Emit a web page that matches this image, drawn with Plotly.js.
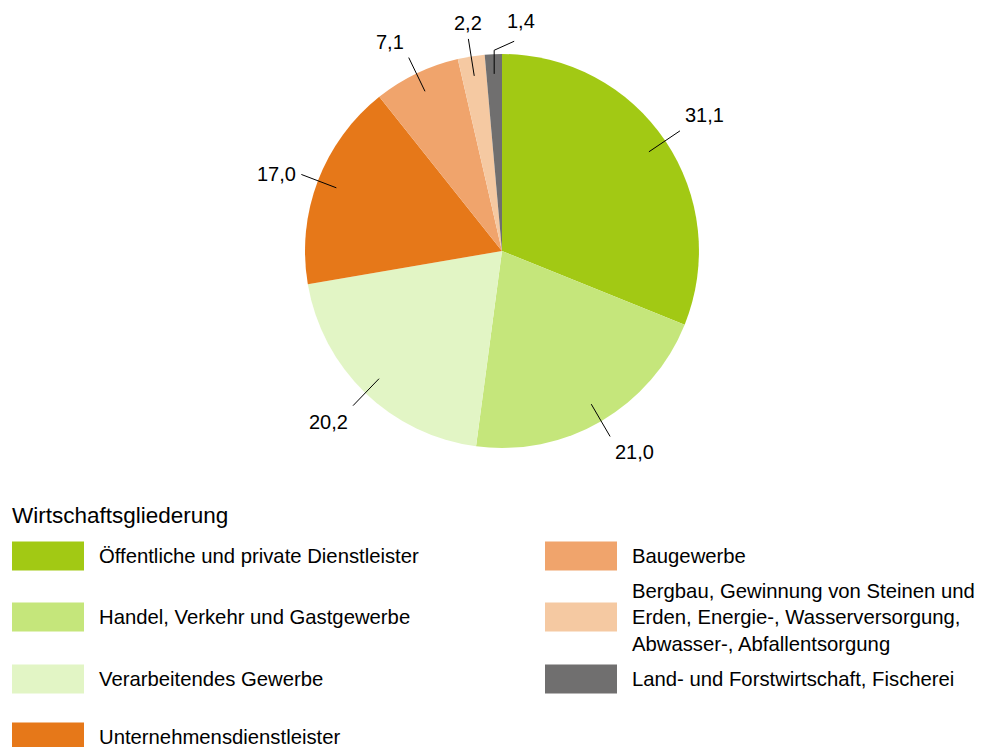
<!DOCTYPE html>
<html><head><meta charset="utf-8">
<script src="https://cdn.plot.ly/plotly-3.0.1.min.js"></script>
<style>html,body{margin:0;padding:0;background:#fff}</style>
</head><body><div id="chart" style="width:981px;height:747px"></div>
<script>
const categories = [
  "Öffentliche und private Dienstleister",
  "Handel, Verkehr und Gastgewerbe",
  "Verarbeitendes Gewerbe",
  "Unternehmensdienstleister",
  "Baugewerbe",
  "Bergbau, Gewinnung von Steinen und<br>Erden, Energie-, Wasserversorgung,<br>Abwasser-, Abfallentsorgung",
  "Land- und Forstwirtschaft, Fischerei"
];
const values = [31.1, 21.0, 20.2, 17.0, 7.1, 2.2, 1.4];
const valueLabels = ["31,1", "21,0", "20,2", "17,0", "7,1", "2,2", "1,4"];
const colors = ["#a2c914", "#c5e67b", "#e2f5c5", "#e67819", "#f0a46c", "#f5c9a2", "#706f6f"];
const legendTitle = "Wirtschaftsgliederung";

const W = 981, H = 747;
const FONT = "Liberation Sans, Arial, sans-serif";
const dom = {x: [0.3109, 0.7125], y: [0.4003, 0.9277]};
const cx = W * (dom.x[0] + dom.x[1]) / 2;
const cy = H * (1 - (dom.y[0] + dom.y[1]) / 2);
const R = W * (dom.x[1] - dom.x[0]) / 2;
const px = x => x / W, py = y => 1 - y / H;

const total = values.reduce((a, b) => a + b, 0);
const shapes = [], annotations = [];
let cum = 0, prevX = null;
values.forEach((v, i) => {
  const mid = (cum + v / 2) / total * 2 * Math.PI;
  cum += v;
  const s = Math.sin(mid), c = Math.cos(mid);
  const pt = r => [cx + r * R * s, cy - r * R * c];
  const p0 = pt(0.9);
  let p1 = pt(1.09);
  let tx = p1[0], ty = p1[1], xa, ya;
  if (Math.abs(s) < 0.3 && prevX !== null && Math.abs(p1[0] - prevX) < 40) {
    const e = pt(1.02);
    shapes.push({type: "line", xref: "paper", yref: "paper", x0: px(p0[0]), y0: py(p0[1]), x1: px(p0[0]), y1: py(e[1]), line: {color: "#000", width: 1}});
    p1 = [p0[0] + 20, e[1] - 9];
    shapes.push({type: "line", xref: "paper", yref: "paper", x0: px(p0[0]), y0: py(e[1]), x1: px(p1[0]), y1: py(p1[1]), line: {color: "#000", width: 1}});
    tx = p1[0] - 9; ty = p1[1] - 7; xa = "left"; ya = "bottom";
  } else {
    shapes.push({type: "line", xref: "paper", yref: "paper", x0: px(p0[0]), y0: py(p0[1]), x1: px(p1[0]), y1: py(p1[1]), line: {color: "#000", width: 1}});
    xa = s > 0.3 ? "left" : (s < -0.3 ? "right" : "center");
    ya = c > 0.5 ? "bottom" : (c < -0.5 ? "top" : "middle");
    tx += xa === "left" ? 3 : (xa === "right" ? -3 : 0);
    ty += ya === "bottom" ? -3 : (ya === "top" ? 3 : 0);
  }
  prevX = tx;
  annotations.push({xref: "paper", yref: "paper", x: px(tx), y: py(ty), xanchor: xa, yanchor: ya,
    text: valueLabels[i], showarrow: false, font: {family: FONT, size: 20, color: "#000"}});
});

annotations.push({xref: "paper", yref: "paper", x: px(10), y: py(515), xanchor: "left", yanchor: "middle",
  text: legendTitle, showarrow: false, font: {family: FONT, size: 22.5, color: "#000"}});
const colX = [12, 545], rowY = [556, 617, 679, 737], perCol = 4;
categories.forEach((cat, i) => {
  const col = Math.floor(i / perCol), row = i % perCol;
  const x = colX[col], y = rowY[row];
  shapes.push({type: "rect", xref: "paper", yref: "paper", x0: px(x), x1: px(x + 72), y0: py(y - 14.5), y1: py(y + 14.5),
    fillcolor: colors[i], line: {width: 0}});
  annotations.push({xref: "paper", yref: "paper", x: px(x + 85), y: py(y), xanchor: "left", yanchor: "middle", align: "left",
    text: cat, showarrow: false, font: {family: FONT, size: 20.3, color: "#000"}});
});

const data = [{
  type: "pie", values: values, labels: categories, marker: {colors: colors, line: {width: 0}},
  sort: false, direction: "clockwise", rotation: 0, textinfo: "none", hoverinfo: "none",
  domain: dom
}];
const layout = {
  width: W, height: H, margin: {l: 0, r: 0, t: 0, b: 0}, showlegend: false,
  paper_bgcolor: "#fff", shapes: shapes, annotations: annotations
};
Plotly.newPlot("chart", data, layout, {displayModeBar: false, staticPlot: true});
</script></body></html>
